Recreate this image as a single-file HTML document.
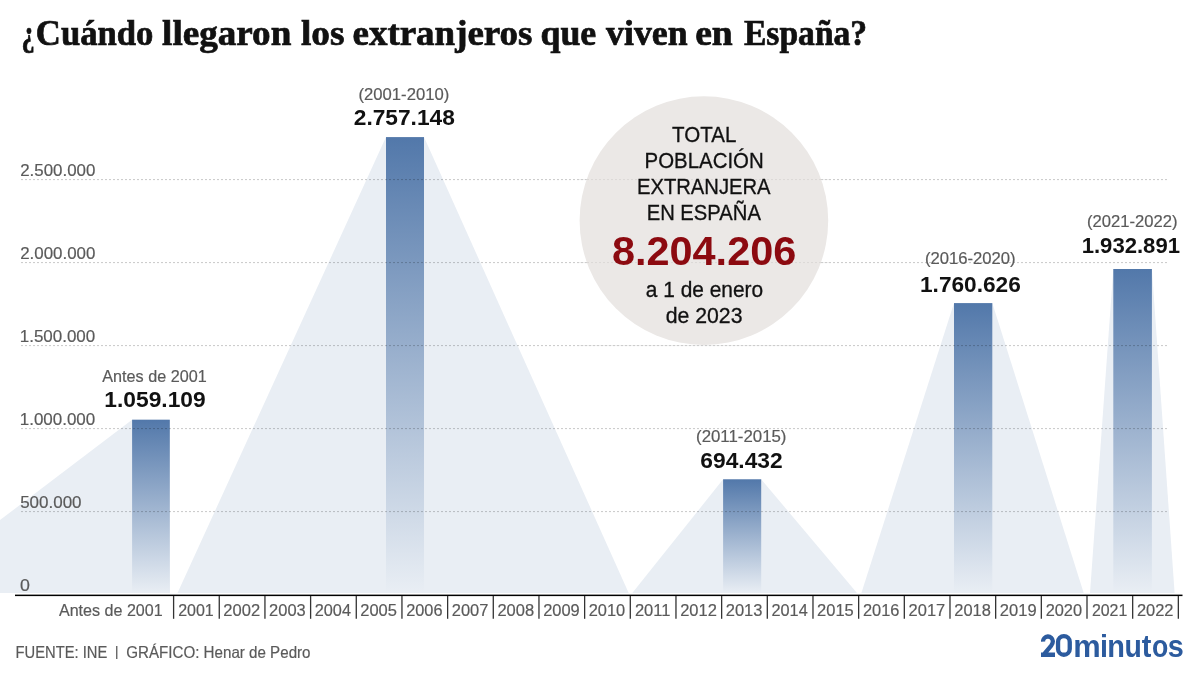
<!DOCTYPE html>
<html><head><meta charset="utf-8">
<style>
html,body{margin:0;padding:0;background:#fff;width:1200px;height:675px;overflow:hidden}
svg{position:absolute;left:0;top:0;display:block;will-change:transform}
</style></head>
<body>
<svg width="1200" height="675" viewBox="0 0 1200 675">
<defs>
<linearGradient id="g" x1="0" y1="0" x2="0" y2="1"><stop offset="0" stop-color="#5278aa"/><stop offset="1" stop-color="#e9eef4"/></linearGradient>
</defs>
<polygon points="-96,593.0 132.1,419.7 169.8,419.7 169.8,593.0" fill="#e9eef4"/>
<polygon points="177.5,593.0 386.0,137.1 424.0,137.1 628.7,593.0" fill="#e9eef4"/>
<polygon points="632.3,593.0 723.1,479.3 761.2,479.3 857.0,593.0" fill="#e9eef4"/>
<polygon points="861.4,593.0 954.0,303.1 992.3,303.1 1083.7,593.0" fill="#e9eef4"/>
<polygon points="1090.0,593.0 1113.3,269.0 1151.9,269.0 1174.6,593.0" fill="#e9eef4"/>
<rect x="132.1" y="419.7" width="37.7" height="173.3" fill="url(#g)"/>
<rect x="386.0" y="137.1" width="38.0" height="455.9" fill="url(#g)"/>
<rect x="723.1" y="479.3" width="38.1" height="113.7" fill="url(#g)"/>
<rect x="954.0" y="303.1" width="38.3" height="289.9" fill="url(#g)"/>
<rect x="1113.3" y="269.0" width="38.6" height="324.0" fill="url(#g)"/>
<line x1="21" y1="179.6" x2="1167" y2="179.6" stroke="#000" stroke-opacity="0.22" stroke-width="1" stroke-dasharray="2 2"/>
<line x1="21" y1="262.6" x2="1167" y2="262.6" stroke="#000" stroke-opacity="0.22" stroke-width="1" stroke-dasharray="2 2"/>
<line x1="21" y1="345.6" x2="1167" y2="345.6" stroke="#000" stroke-opacity="0.22" stroke-width="1" stroke-dasharray="2 2"/>
<line x1="21" y1="428.6" x2="1167" y2="428.6" stroke="#000" stroke-opacity="0.22" stroke-width="1" stroke-dasharray="2 2"/>
<line x1="21" y1="511.6" x2="1167" y2="511.6" stroke="#000" stroke-opacity="0.22" stroke-width="1" stroke-dasharray="2 2"/>
<circle cx="703.9" cy="220.6" r="124.3" fill="#ebe8e6"/>
<line x1="579" y1="179.6" x2="830" y2="179.6" stroke="#000" stroke-opacity="0.07" stroke-width="1" stroke-dasharray="2 2"/>
<line x1="579" y1="262.6" x2="830" y2="262.6" stroke="#000" stroke-opacity="0.07" stroke-width="1" stroke-dasharray="2 2"/>
<line x1="579" y1="345.6" x2="830" y2="345.6" stroke="#000" stroke-opacity="0.07" stroke-width="1" stroke-dasharray="2 2"/>
<rect x="15" y="594.6" width="1167.5" height="1.5" fill="#000"/>
<line x1="173.60" y1="596" x2="173.60" y2="618.8" stroke="#333" stroke-width="1.3"/>
<line x1="219.27" y1="596" x2="219.27" y2="618.8" stroke="#333" stroke-width="1.3"/>
<line x1="264.94" y1="596" x2="264.94" y2="618.8" stroke="#333" stroke-width="1.3"/>
<line x1="310.61" y1="596" x2="310.61" y2="618.8" stroke="#333" stroke-width="1.3"/>
<line x1="356.28" y1="596" x2="356.28" y2="618.8" stroke="#333" stroke-width="1.3"/>
<line x1="401.95" y1="596" x2="401.95" y2="618.8" stroke="#333" stroke-width="1.3"/>
<line x1="447.62" y1="596" x2="447.62" y2="618.8" stroke="#333" stroke-width="1.3"/>
<line x1="493.29" y1="596" x2="493.29" y2="618.8" stroke="#333" stroke-width="1.3"/>
<line x1="538.96" y1="596" x2="538.96" y2="618.8" stroke="#333" stroke-width="1.3"/>
<line x1="584.63" y1="596" x2="584.63" y2="618.8" stroke="#333" stroke-width="1.3"/>
<line x1="630.30" y1="596" x2="630.30" y2="618.8" stroke="#333" stroke-width="1.3"/>
<line x1="675.97" y1="596" x2="675.97" y2="618.8" stroke="#333" stroke-width="1.3"/>
<line x1="721.64" y1="596" x2="721.64" y2="618.8" stroke="#333" stroke-width="1.3"/>
<line x1="767.31" y1="596" x2="767.31" y2="618.8" stroke="#333" stroke-width="1.3"/>
<line x1="812.98" y1="596" x2="812.98" y2="618.8" stroke="#333" stroke-width="1.3"/>
<line x1="858.65" y1="596" x2="858.65" y2="618.8" stroke="#333" stroke-width="1.3"/>
<line x1="904.32" y1="596" x2="904.32" y2="618.8" stroke="#333" stroke-width="1.3"/>
<line x1="949.99" y1="596" x2="949.99" y2="618.8" stroke="#333" stroke-width="1.3"/>
<line x1="995.66" y1="596" x2="995.66" y2="618.8" stroke="#333" stroke-width="1.3"/>
<line x1="1041.33" y1="596" x2="1041.33" y2="618.8" stroke="#333" stroke-width="1.3"/>
<line x1="1087.00" y1="596" x2="1087.00" y2="618.8" stroke="#333" stroke-width="1.3"/>
<line x1="1132.67" y1="596" x2="1132.67" y2="618.8" stroke="#333" stroke-width="1.3"/>
<line x1="1178.34" y1="596" x2="1178.34" y2="618.8" stroke="#333" stroke-width="1.3"/>
<text x="21.51" y="44.6" font-family="Liberation Serif" font-size="35.5" font-weight="bold" fill="#111" stroke="#111" stroke-width="0.7" textLength="13.21" lengthAdjust="spacingAndGlyphs">¿</text>
<text x="35.83" y="44.6" font-family="Liberation Serif" font-size="35.5" font-weight="bold" fill="#111" stroke="#111" stroke-width="0.7" textLength="117.61" lengthAdjust="spacingAndGlyphs">Cuándo</text>
<text x="162.10" y="44.6" font-family="Liberation Serif" font-size="35.5" font-weight="bold" fill="#111" stroke="#111" stroke-width="0.7" textLength="129.24" lengthAdjust="spacingAndGlyphs">llegaron</text>
<text x="300.90" y="44.6" font-family="Liberation Serif" font-size="35.5" font-weight="bold" fill="#111" stroke="#111" stroke-width="0.7" textLength="43.56" lengthAdjust="spacingAndGlyphs">los</text>
<text x="352.50" y="44.6" font-family="Liberation Serif" font-size="35.5" font-weight="bold" fill="#111" stroke="#111" stroke-width="0.7" textLength="179.99" lengthAdjust="spacingAndGlyphs">extranjeros</text>
<text x="540.48" y="44.6" font-family="Liberation Serif" font-size="35.5" font-weight="bold" fill="#111" stroke="#111" stroke-width="0.7" textLength="55.75" lengthAdjust="spacingAndGlyphs">que</text>
<text x="606.11" y="44.6" font-family="Liberation Serif" font-size="35.5" font-weight="bold" fill="#111" stroke="#111" stroke-width="0.7" textLength="81.45" lengthAdjust="spacingAndGlyphs">viven</text>
<text x="695.16" y="44.6" font-family="Liberation Serif" font-size="35.5" font-weight="bold" fill="#111" stroke="#111" stroke-width="0.7" textLength="37.56" lengthAdjust="spacingAndGlyphs">en</text>
<text x="743.97" y="44.6" font-family="Liberation Serif" font-size="35.5" font-weight="bold" fill="#111" stroke="#111" stroke-width="0.7" textLength="123.20" lengthAdjust="spacingAndGlyphs">España?</text>
<text x="20.13" y="175.8" font-family="Liberation Sans" font-size="17" font-weight="normal" fill="#5a5a5a" stroke="#5a5a5a" stroke-width="0.2" textLength="75.23" lengthAdjust="spacingAndGlyphs">2.500.000</text>
<text x="20.13" y="258.9" font-family="Liberation Sans" font-size="17" font-weight="normal" fill="#5a5a5a" stroke="#5a5a5a" stroke-width="0.2" textLength="75.23" lengthAdjust="spacingAndGlyphs">2.000.000</text>
<text x="19.77" y="341.8" font-family="Liberation Sans" font-size="17" font-weight="normal" fill="#5a5a5a" stroke="#5a5a5a" stroke-width="0.2" textLength="75.47" lengthAdjust="spacingAndGlyphs">1.500.000</text>
<text x="19.77" y="424.6" font-family="Liberation Sans" font-size="17" font-weight="normal" fill="#5a5a5a" stroke="#5a5a5a" stroke-width="0.2" textLength="75.47" lengthAdjust="spacingAndGlyphs">1.000.000</text>
<text x="20.18" y="507.5" font-family="Liberation Sans" font-size="17" font-weight="normal" fill="#5a5a5a" stroke="#5a5a5a" stroke-width="0.2" textLength="61.39" lengthAdjust="spacingAndGlyphs">500.000</text>
<text x="20.13" y="590.5" font-family="Liberation Sans" font-size="17" font-weight="normal" fill="#5a5a5a" stroke="#5a5a5a" stroke-width="0.2" textLength="9.90" lengthAdjust="spacingAndGlyphs">0</text>
<text x="102.24" y="382" font-family="Liberation Sans" font-size="17" font-weight="normal" fill="#5a5a5a" stroke="#5a5a5a" stroke-width="0.2" textLength="104.43" lengthAdjust="spacingAndGlyphs">Antes de 2001</text>
<text x="358.52" y="99.7" font-family="Liberation Sans" font-size="17" font-weight="normal" fill="#5a5a5a" stroke="#5a5a5a" stroke-width="0.2" textLength="90.71" lengthAdjust="spacingAndGlyphs">(2001-2010)</text>
<text x="696.05" y="441.6" font-family="Liberation Sans" font-size="17" font-weight="normal" fill="#5a5a5a" stroke="#5a5a5a" stroke-width="0.2" textLength="90.43" lengthAdjust="spacingAndGlyphs">(2011-2015)</text>
<text x="924.93" y="263.5" font-family="Liberation Sans" font-size="17" font-weight="normal" fill="#5a5a5a" stroke="#5a5a5a" stroke-width="0.2" textLength="90.72" lengthAdjust="spacingAndGlyphs">(2016-2020)</text>
<text x="1086.97" y="226.6" font-family="Liberation Sans" font-size="17" font-weight="normal" fill="#5a5a5a" stroke="#5a5a5a" stroke-width="0.2" textLength="90.66" lengthAdjust="spacingAndGlyphs">(2021-2022)</text>
<text x="104.31" y="406.9" font-family="Liberation Sans" font-size="21.5" font-weight="bold" fill="#111" textLength="101.37" lengthAdjust="spacingAndGlyphs">1.059.109</text>
<text x="353.77" y="124.7" font-family="Liberation Sans" font-size="21.5" font-weight="bold" fill="#111" textLength="101.04" lengthAdjust="spacingAndGlyphs">2.757.148</text>
<text x="700.37" y="467.6" font-family="Liberation Sans" font-size="21.5" font-weight="bold" fill="#111" textLength="82.33" lengthAdjust="spacingAndGlyphs">694.432</text>
<text x="920.00" y="291.8" font-family="Liberation Sans" font-size="21.5" font-weight="bold" fill="#111" textLength="100.83" lengthAdjust="spacingAndGlyphs">1.760.626</text>
<text x="1081.67" y="252.7" font-family="Liberation Sans" font-size="21.5" font-weight="bold" fill="#111" textLength="98.36" lengthAdjust="spacingAndGlyphs">1.932.891</text>
<text x="672.08" y="141.8" font-family="Liberation Sans" font-size="21.5" font-weight="normal" fill="#111" stroke="#111" stroke-width="0.3" textLength="64.25" lengthAdjust="spacingAndGlyphs">TOTAL</text>
<text x="644.55" y="167.8" font-family="Liberation Sans" font-size="21.5" font-weight="normal" fill="#111" stroke="#111" stroke-width="0.3" textLength="119.14" lengthAdjust="spacingAndGlyphs">POBLACIÓN</text>
<text x="636.93" y="193.8" font-family="Liberation Sans" font-size="21.5" font-weight="normal" fill="#111" stroke="#111" stroke-width="0.3" textLength="133.65" lengthAdjust="spacingAndGlyphs">EXTRANJERA</text>
<text x="646.67" y="219.8" font-family="Liberation Sans" font-size="21.5" font-weight="normal" fill="#111" stroke="#111" stroke-width="0.3" textLength="114.23" lengthAdjust="spacingAndGlyphs">EN ESPAÑA</text>
<text x="645.81" y="296.5" font-family="Liberation Sans" font-size="21.5" font-weight="normal" fill="#111" stroke="#111" stroke-width="0.3" textLength="117.37" lengthAdjust="spacingAndGlyphs">a 1 de enero</text>
<text x="665.63" y="322.5" font-family="Liberation Sans" font-size="21.5" font-weight="normal" fill="#111" stroke="#111" stroke-width="0.3" textLength="76.84" lengthAdjust="spacingAndGlyphs">de 2023</text>
<text x="611.94" y="264.5" font-family="Liberation Sans" font-size="40" font-weight="bold" fill="#8c0a10" textLength="184.33" lengthAdjust="spacingAndGlyphs">8.204.206</text>
<text x="58.92" y="615.8" font-family="Liberation Sans" font-size="17" font-weight="normal" fill="#5a5a5a" stroke="#5a5a5a" stroke-width="0.2" textLength="103.79" lengthAdjust="spacingAndGlyphs">Antes de 2001</text>
<text x="178.17" y="615.8" font-family="Liberation Sans" font-size="17" font-weight="normal" fill="#5a5a5a" stroke="#5a5a5a" stroke-width="0.2" textLength="35.62" lengthAdjust="spacingAndGlyphs">2001</text>
<text x="223.30" y="615.8" font-family="Liberation Sans" font-size="17" font-weight="normal" fill="#5a5a5a" stroke="#5a5a5a" stroke-width="0.2" textLength="36.80" lengthAdjust="spacingAndGlyphs">2002</text>
<text x="269.11" y="615.8" font-family="Liberation Sans" font-size="17" font-weight="normal" fill="#5a5a5a" stroke="#5a5a5a" stroke-width="0.2" textLength="36.62" lengthAdjust="spacingAndGlyphs">2003</text>
<text x="314.76" y="615.8" font-family="Liberation Sans" font-size="17" font-weight="normal" fill="#5a5a5a" stroke="#5a5a5a" stroke-width="0.2" textLength="36.24" lengthAdjust="spacingAndGlyphs">2004</text>
<text x="360.28" y="615.8" font-family="Liberation Sans" font-size="17" font-weight="normal" fill="#5a5a5a" stroke="#5a5a5a" stroke-width="0.2" textLength="36.68" lengthAdjust="spacingAndGlyphs">2005</text>
<text x="406.20" y="615.8" font-family="Liberation Sans" font-size="17" font-weight="normal" fill="#5a5a5a" stroke="#5a5a5a" stroke-width="0.2" textLength="36.38" lengthAdjust="spacingAndGlyphs">2006</text>
<text x="451.82" y="615.8" font-family="Liberation Sans" font-size="17" font-weight="normal" fill="#5a5a5a" stroke="#5a5a5a" stroke-width="0.2" textLength="36.61" lengthAdjust="spacingAndGlyphs">2007</text>
<text x="497.38" y="615.8" font-family="Liberation Sans" font-size="17" font-weight="normal" fill="#5a5a5a" stroke="#5a5a5a" stroke-width="0.2" textLength="36.68" lengthAdjust="spacingAndGlyphs">2008</text>
<text x="543.18" y="615.8" font-family="Liberation Sans" font-size="17" font-weight="normal" fill="#5a5a5a" stroke="#5a5a5a" stroke-width="0.2" textLength="36.57" lengthAdjust="spacingAndGlyphs">2009</text>
<text x="588.71" y="615.8" font-family="Liberation Sans" font-size="17" font-weight="normal" fill="#5a5a5a" stroke="#5a5a5a" stroke-width="0.2" textLength="36.50" lengthAdjust="spacingAndGlyphs">2010</text>
<text x="634.91" y="615.8" font-family="Liberation Sans" font-size="17" font-weight="normal" fill="#5a5a5a" stroke="#5a5a5a" stroke-width="0.2" textLength="35.56" lengthAdjust="spacingAndGlyphs">2011</text>
<text x="680.15" y="615.8" font-family="Liberation Sans" font-size="17" font-weight="normal" fill="#5a5a5a" stroke="#5a5a5a" stroke-width="0.2" textLength="36.70" lengthAdjust="spacingAndGlyphs">2012</text>
<text x="725.72" y="615.8" font-family="Liberation Sans" font-size="17" font-weight="normal" fill="#5a5a5a" stroke="#5a5a5a" stroke-width="0.2" textLength="36.75" lengthAdjust="spacingAndGlyphs">2013</text>
<text x="771.48" y="615.8" font-family="Liberation Sans" font-size="17" font-weight="normal" fill="#5a5a5a" stroke="#5a5a5a" stroke-width="0.2" textLength="36.25" lengthAdjust="spacingAndGlyphs">2014</text>
<text x="817.11" y="615.8" font-family="Liberation Sans" font-size="17" font-weight="normal" fill="#5a5a5a" stroke="#5a5a5a" stroke-width="0.2" textLength="36.67" lengthAdjust="spacingAndGlyphs">2015</text>
<text x="862.99" y="615.8" font-family="Liberation Sans" font-size="17" font-weight="normal" fill="#5a5a5a" stroke="#5a5a5a" stroke-width="0.2" textLength="36.43" lengthAdjust="spacingAndGlyphs">2016</text>
<text x="908.62" y="615.8" font-family="Liberation Sans" font-size="17" font-weight="normal" fill="#5a5a5a" stroke="#5a5a5a" stroke-width="0.2" textLength="36.62" lengthAdjust="spacingAndGlyphs">2017</text>
<text x="954.34" y="615.8" font-family="Liberation Sans" font-size="17" font-weight="normal" fill="#5a5a5a" stroke="#5a5a5a" stroke-width="0.2" textLength="36.53" lengthAdjust="spacingAndGlyphs">2018</text>
<text x="999.85" y="615.8" font-family="Liberation Sans" font-size="17" font-weight="normal" fill="#5a5a5a" stroke="#5a5a5a" stroke-width="0.2" textLength="36.72" lengthAdjust="spacingAndGlyphs">2019</text>
<text x="1045.65" y="615.8" font-family="Liberation Sans" font-size="17" font-weight="normal" fill="#5a5a5a" stroke="#5a5a5a" stroke-width="0.2" textLength="36.42" lengthAdjust="spacingAndGlyphs">2020</text>
<text x="1091.91" y="615.8" font-family="Liberation Sans" font-size="17" font-weight="normal" fill="#5a5a5a" stroke="#5a5a5a" stroke-width="0.2" textLength="35.42" lengthAdjust="spacingAndGlyphs">2021</text>
<text x="1136.92" y="615.8" font-family="Liberation Sans" font-size="17" font-weight="normal" fill="#5a5a5a" stroke="#5a5a5a" stroke-width="0.2" textLength="36.56" lengthAdjust="spacingAndGlyphs">2022</text>
<text x="15.57" y="657.7" font-family="Liberation Sans" font-size="16.5" font-weight="normal" fill="#5a5a5a" stroke="#5a5a5a" stroke-width="0.2" textLength="91.67" lengthAdjust="spacingAndGlyphs">FUENTE: INE</text>
<text x="126.18" y="657.7" font-family="Liberation Sans" font-size="16.5" font-weight="normal" fill="#5a5a5a" stroke="#5a5a5a" stroke-width="0.2" textLength="184.36" lengthAdjust="spacingAndGlyphs">GRÁFICO: Henar de Pedro</text>
<text x="1073.17" y="656.5" font-family="Liberation Sans" font-size="31" font-weight="bold" fill="#2c5b9e" textLength="27.43" lengthAdjust="spacingAndGlyphs">m</text>
<text x="1099.89" y="656.5" font-family="Liberation Sans" font-size="31" font-weight="bold" fill="#2c5b9e" textLength="7.98" lengthAdjust="spacingAndGlyphs">i</text>
<text x="1107.34" y="656.5" font-family="Liberation Sans" font-size="31" font-weight="bold" fill="#2c5b9e" textLength="17.65" lengthAdjust="spacingAndGlyphs">n</text>
<text x="1124.48" y="656.5" font-family="Liberation Sans" font-size="31" font-weight="bold" fill="#2c5b9e" textLength="17.33" lengthAdjust="spacingAndGlyphs">u</text>
<text x="1141.77" y="656.5" font-family="Liberation Sans" font-size="31" font-weight="bold" fill="#2c5b9e" textLength="9.63" lengthAdjust="spacingAndGlyphs">t</text>
<text x="1151.91" y="656.5" font-family="Liberation Sans" font-size="31" font-weight="bold" fill="#2c5b9e" textLength="16.31" lengthAdjust="spacingAndGlyphs">o</text>
<text x="1167.66" y="656.5" font-family="Liberation Sans" font-size="31" font-weight="bold" fill="#2c5b9e" textLength="16.03" lengthAdjust="spacingAndGlyphs">s</text>
<rect x="116.1" y="646" width="1.3" height="13" fill="#5a5a5a"/>
<clipPath id="c2"><rect x="1040.9" y="630" width="14.2" height="26.9"/></clipPath>
<path clip-path="url(#c2)" d="M1043.05 641.6 A4.9 4.9 0 0 1 1052.85 641.2 C1052.85 643 1052.3 644.2 1051.2 645.6 L1042.6 656 L1042.6 654.75 L1056 654.75" fill="none" stroke="#2c5b9e" stroke-width="4.3" stroke-linejoin="miter"/>
<rect x="1058.05" y="636.05" width="11.7" height="18.7" rx="5.85" ry="5.85" fill="none" stroke="#2c5b9e" stroke-width="4.3"/>
</svg>
</body></html>
